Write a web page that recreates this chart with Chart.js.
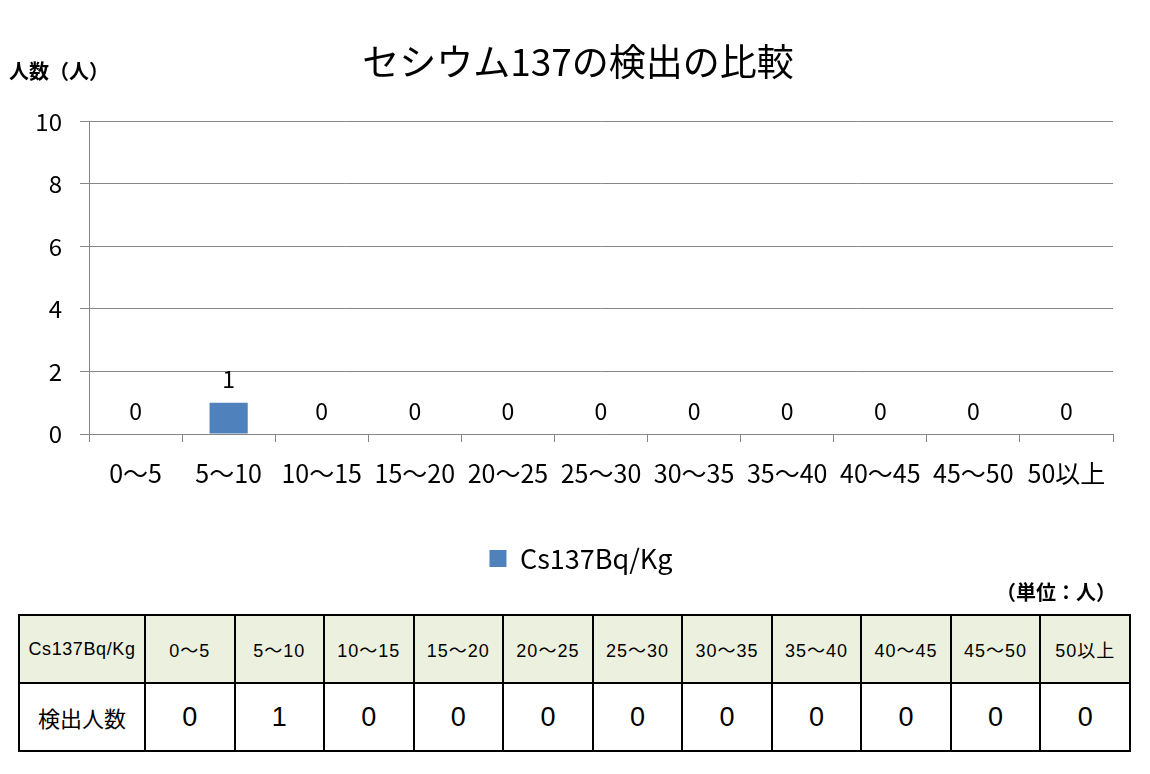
<!DOCTYPE html>
<html>
<head>
<meta charset="utf-8">
<script src="https://cdn.jsdelivr.net/npm/chart.js@4/dist/chart.umd.min.js"></script>
<style>
  html, body { margin: 0; padding: 0; background: #fff; }
  body { width: 1150px; height: 774px; position: relative; overflow: hidden; font-family: "Noto Sans CJK JP", sans-serif; }
  #wrap { position: absolute; left: 0; top: 0; width: 1150px; height: 592px; }
  .note { position: absolute; font-weight: bold; font-size: 20px; color: #000; white-space: nowrap; line-height: 1.2; }
  #yTitle { left: 9px; top: 59px; }
  #unit { left: 996px; top: 580px; }
  table { position: absolute; left: 18px; top: 614px; width: 1113px; border-collapse: collapse; table-layout: fixed; }
  td { border: 2.5px solid #000; text-align: center; padding: 0; color: #000; }
  tr.head td { background: #ebf1de; height: 66px; font-family: "Liberation Sans", Arial, "Noto Sans CJK JP", sans-serif; font-size: 18px; letter-spacing: 1px; }
  tr.head td.first { font-size: 18px; letter-spacing: 0.6px; }
  tr.body td { height: 66px; font-family: "Liberation Sans", Arial, sans-serif; font-size: 27px; }
  tr.body td.first { font-family: "Noto Sans CJK JP", sans-serif; font-size: 22px; }
</style>
</head>
<body>
<div id="wrap"><canvas id="chart" width="1150" height="592"></canvas></div>
<div class="note" id="yTitle">人数（人）</div>
<div class="note" id="unit">（単位：人）</div>
<table id="tbl"></table>
<script>
const categories = ['0〜5', '5〜10', '10〜15', '15〜20', '20〜25', '25〜30', '30〜35', '35〜40', '40〜45', '45〜50', '50以上'];
const counts = [0, 1, 0, 0, 0, 0, 0, 0, 0, 0, 0];
const seriesName = 'Cs137Bq/Kg';
const rowName = '検出人数';
const yTicks = [0, 2, 4, 6, 8, 10];

// table under the chart
const tbl = document.getElementById('tbl');
let html = '<colgroup><col style="width:126px">' + categories.map(() => '<col>').join('') + '</colgroup>';
html += '<tr class="head"><td class="first">' + seriesName + '</td>' + categories.map(c => '<td>' + c + '</td>').join('') + '</tr>';
html += '<tr class="body"><td class="first">' + rowName + '</td>' + counts.map(v => '<td>' + v + '</td>').join('') + '</tr>';
tbl.innerHTML = html;

const font = '"Noto Sans CJK JP", sans-serif';

// value labels above the bars
const valueLabels = {
    id: 'valueLabels',
    afterDatasetsDraw(chart) {
        const { ctx } = chart;
        const meta = chart.getDatasetMeta(0);
        ctx.save();
        ctx.font = '23px ' + font;
        ctx.fillStyle = '#000';
        ctx.textAlign = 'center';
        ctx.textBaseline = 'middle';
        meta.data.forEach((bar, i) => {
            ctx.fillText(String(counts[i]), bar.x, bar.y - 23);
        });
        ctx.restore();
    }
};

// centre title and legend on the whole canvas, not just the plot width
const centreBoxes = {
    id: 'centreBoxes',
    afterLayout(chart) {
        chart.titleBlock.left = 0;
        chart.titleBlock.right = 1156;
        chart.legend.left = 0;
        chart.legend.right = 1162;
    }
};

new Chart(document.getElementById('chart'), {
    type: 'bar',
    data: {
        labels: categories,
        datasets: [{
            label: seriesName,
            data: counts,
            backgroundColor: '#4f81bd',
            borderWidth: 0,
            barPercentage: 0.41,
            categoryPercentage: 1
        }]
    },
    options: {
        responsive: false,
        animation: false,
        layout: { padding: { left: 0, right: 37, top: 40, bottom: 10 } },
        scales: {
            x: {
                grid: { offset: true, drawOnChartArea: false, color: '#868686', tickLength: 8, lineWidth: 1 },
                border: { color: '#868686' },
                ticks: { color: '#000', font: { family: font, size: 25 }, autoSkip: false, maxRotation: 0, minRotation: 0, padding: 16 },
                afterFit: (scale) => { scale.height = 101; }
            },
            y: {
                min: 0,
                max: 10,
                afterBuildTicks: (scale) => { scale.ticks = yTicks.map(v => ({ value: v })); },
                grid: { color: '#868686', tickLength: 9, lineWidth: 1 },
                border: { color: '#868686' },
                ticks: { color: '#000', font: { family: font, size: 24 }, padding: 18 },
                afterFit: (scale) => { scale.width = 89; }
            }
        },
        plugins: {
            title: {
                display: true,
                text: 'セシウム137の検出の比較',
                color: '#000',
                font: { family: font, size: 37, weight: 'normal' },
                padding: { top: 0, bottom: 37 }
            },
            legend: {
                position: 'bottom',
                labels: {
                    color: '#000',
                    font: { family: font, size: 27 },
                    boxWidth: 17,
                    boxHeight: 17,
                    padding: 10
                }
            },
            tooltip: { enabled: false }
        }
    },
    plugins: [valueLabels, centreBoxes]
});
</script>
</body>
</html>
